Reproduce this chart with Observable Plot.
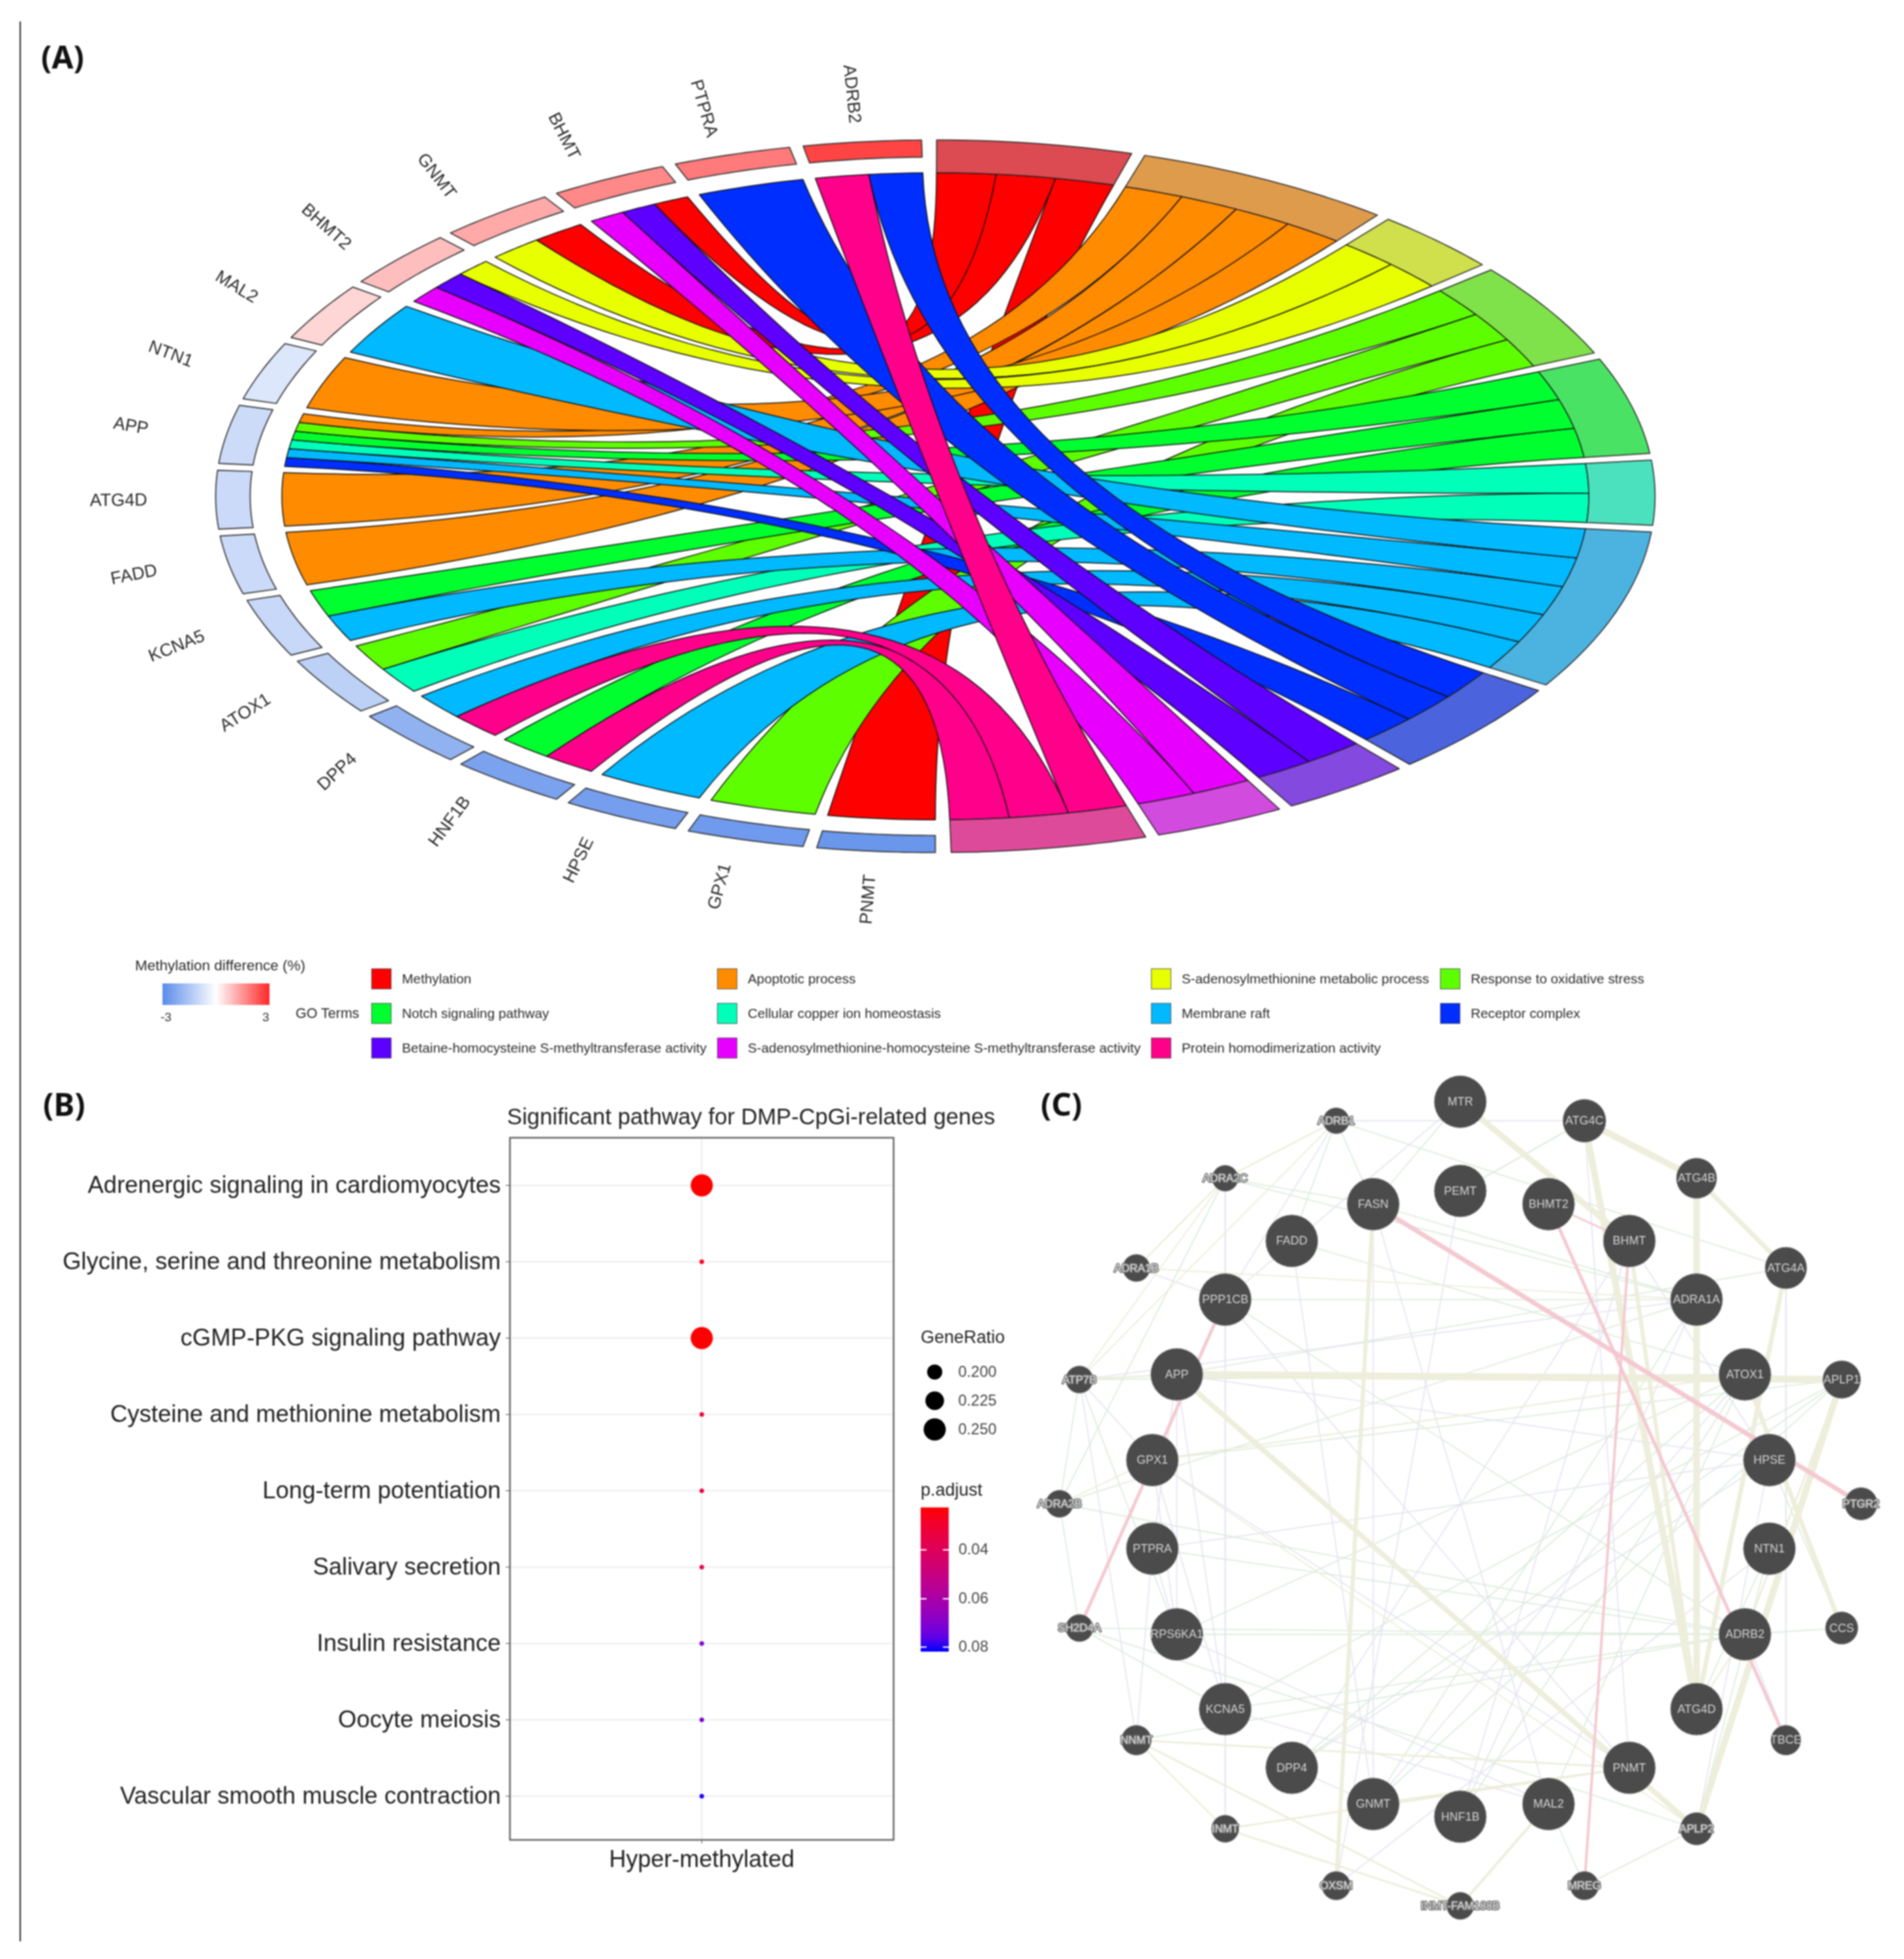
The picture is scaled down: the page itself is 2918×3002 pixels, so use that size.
<!DOCTYPE html>
<html><head><meta charset="utf-8">
<script src="https://cdn.jsdelivr.net/npm/d3@7"></script>
<script src="https://cdn.jsdelivr.net/npm/@observablehq/plot@0.6"></script>
<style>
html,body{margin:0;background:#fff}
#root{position:relative;width:2918px;height:3002px;overflow:hidden;background:#fff;font-family:"Liberation Sans",Arial,sans-serif;filter:blur(0.9px)}
#root svg{position:absolute;background:transparent;overflow:visible}
.t{position:absolute;white-space:nowrap;line-height:1;transform:translateY(-50%);color:#222}
.sw{position:absolute;box-sizing:border-box;border:1.5px solid #555}
</style></head><body><div id="root"></div>
<script>
// ---------- Panel A data ----------
const genes=["PNMT","GPX1","HPSE","HNF1B","DPP4","ATOX1","KCNA5","FADD","ATG4D","APP","NTN1","MAL2","BHMT2","GNMT","BHMT","PTPRA","ADRB2"];
const geneDiff=[-2.7,-2.6,-2.5,-2.4,-2.0,-1.2,-1.0,-0.95,-0.95,-0.93,-0.62,0.57,0.9,1.2,1.65,1.85,2.6];
const terms=["Methylation","Apoptotic process","S-adenosylmethionine metabolic process","Response to oxidative stress","Notch signaling pathway","Cellular copper ion homeostasis","Membrane raft","Receptor complex","Betaine-homocysteine S-methyltransferase activity","S-adenosylmethionine-homocysteine S-methyltransferase activity","Protein homodimerization activity"];
const termColor=["#FF0000","#FF8B00","#E8FF00","#5DFF00","#00FF2E","#00FFB9","#00B9FF","#002EFF","#5D00FF","#E800FF","#FF008B"];
const termRing=["#DC4B52","#DE9B4C","#CFE04C","#80E24B","#4AE265","#4CE1BE","#4CB3E0","#4C63DE","#8449DE","#D24BDF","#DE4A9A"];
const termGenes=[
 ["BHMT","GNMT","PNMT"],
 ["APP","ATG4D","FADD","NTN1"],
 ["GNMT","BHMT2"],
 ["APP","ATOX1","GPX1"],
 ["APP","KCNA5","HNF1B"],
 ["APP","ATOX1"],
 ["MAL2","APP","KCNA5","DPP4","HPSE"],
 ["ADRB2","PTPRA","APP"],
 ["BHMT","BHMT2"],
 ["BHMT","BHMT2"],
 ["ADRB2","DPP4","HNF1B"]
];
// ---------- Panel B data ----------
const pathways=["Adrenergic signaling in cardiomyocytes","Glycine, serine and threonine metabolism","cGMP-PKG signaling pathway","Cysteine and methionine metabolism","Long-term potentiation","Salivary secretion","Insulin resistance","Oocyte meiosis","Vascular smooth muscle contraction"];
const geneRatio=[0.25,0.125,0.25,0.125,0.125,0.125,0.125,0.125,0.125];
const pAdjust=[0.023,0.027,0.023,0.031,0.033,0.037,0.07,0.072,0.082];
const ratioLegend=[0.2,0.225,0.25];
const pTicks=[0.04,0.06,0.08];
// ---------- Panel C data ----------
const bigNodes=[["MTR",788,77],["FASN",635,255],["PEMT",788,232],["BHMT2",943,255],["FADD",492,319],["BHMT",1085,319],["PPP1CB",375,421],["ADRA1A",1203,421],["APP",290,551],["ATOX1",1288,551],["GPX1",247,700],["HPSE",1331,700],["PTPRA",247,854],["NTN1",1331,854],["RPS6KA1",290,1003],["ADRB2",1288,1003],["KCNA5",375,1133],["ATG4D",1203,1133],["DPP4",492,1235],["PNMT",1085,1235],["GNMT",635,1298],["MAL2",943,1298],["HNF1B",788,1320]];
const midNodes=[["ATG4C",1006,110,33],["ATG4B",1203,210,31],["ATG4A",1360,366,32],["APLP1",1458,560,29],["CCS",1458,992,25],["TBCE",1360,1187,23]];
const smallNodes=[["PTGR2",1492,776,25],["APLP2",1203,1341,25],["MREG",1006,1440,22],["INMT-FAM188B",788,1475,21],["OXSM",570,1440,22],["INMT",375,1341,21],["NNMT",219,1187,23],["SH2D4A",119,992,21],["ADRA2B",84,776,21],["ATP7B",119,560,21],["ADRA1B",219,366,21],["ADRA2C",375,210,20],["ADRB1",570,110,20]];
const coexpEdges=[["APP","APLP1",11],["MTR","BHMT",9],["ATG4C","ATG4B",10],["ATG4C","ATG4D",10],["ATG4B","ATG4D",10],["ATG4B","ATG4A",7],["ATG4A","ATG4D",7],["APLP1","APLP2",10],["APP","APLP2",8],["ATOX1","CCS",7],["FASN","OXSM",6],["BHMT","ATG4D",6],["APP","ATP7B",3],["NNMT","PNMT",3],["INMT","PNMT",3],["NNMT","INMT-FAM188B",3],["MAL2","INMT-FAM188B",4],["INMT","INMT-FAM188B",3],["PNMT","APLP2",4],["GNMT","PNMT",3],["ADRB1","ADRA2C",2.5],["ADRA2C","ADRA1B",2.5],["ADRA1B","ADRA1A",2],["ADRB1","ATP7B",2],["GPX1","ATOX1",2.5],["APLP1","ADRB2",3],["NNMT","INMT",2.5],["ADRA2C","ATP7B",2],["ADRB2","ATG4D",2.5],["GPX1","APLP2",2],["ADRA2B","GPX1",2]];
const pinkEdges=[["FASN","PTGR2",7],["BHMT2","TBCE",5],["BHMT","MREG",4],["PPP1CB","SH2D4A",5],["BHMT2","BHMT",3]];
const greenEdges=[["ADRB1","FADD"],["ADRB1","FASN"],["ADRA2C","ADRA1A"],["ADRA2C","FASN"],["ADRA2C","ADRA2B"],["ATP7B","ATOX1"],["ATP7B","ADRA2B"],["ATP7B","RPS6KA1"],["ADRA2B","ADRB2"],["ADRA2B","ADRA1A"],["SH2D4A","ADRB2"],["SH2D4A","APLP2"],["RPS6KA1","ADRB2"],["KCNA5","APLP1"],["KCNA5","ADRB2"],["DPP4","ATOX1"],["GNMT","ADRA1A"],["HNF1B","ATOX1"],["PEMT","ATG4C"],["FADD","ATOX1"],["PPP1CB","ADRA1A"],["PPP1CB","ADRB2"],["APP","ATG4A"],["GPX1","APLP1"],["PTPRA","ADRB2"],["NTN1","ATG4D"],["NTN1","APLP2"],["HPSE","CCS"],["CCS","ADRB2"],["TBCE","ATG4A"],["MREG","APLP2"],["SH2D4A","ADRA2B"],["KCNA5","SH2D4A"],["DPP4","APLP1"],["MTR","FASN"],["FASN","ADRA1A"],["ADRB1","ATG4A"],["ATG4C","PEMT"],["MAL2","ATOX1"],["NNMT","ADRB2"],["GNMT","APLP1"],["RPS6KA1","ATOX1"],["MAL2","MREG"]];
const lavEdges=[["ADRA1B","PPP1CB"],["ATP7B","GPX1"],["APP","RPS6KA1"],["APP","PTPRA"],["GPX1","RPS6KA1"],["PTPRA","RPS6KA1"],["PTPRA","NNMT"],["GPX1","KCNA5"],["APP","KCNA5"],["BHMT","HNF1B"],["MTR","PPP1CB"],["ADRA2C","PPP1CB"],["FADD","GNMT"],["FASN","GNMT"],["ADRB1","PPP1CB"],["ADRA2C","INMT"],["INMT","PPP1CB"],["ADRA1A","HNF1B"],["ATOX1","GNMT"],["HPSE","DPP4"],["HPSE","BHMT"],["NTN1","OXSM"],["ADRB2","TBCE"],["ATG4A","TBCE"],["PEMT","OXSM"],["ATG4C","PNMT"],["FASN","MAL2"],["ADRA1A","ATP7B"],["ATP7B","NNMT"],["BHMT","DPP4"],["PPP1CB","PNMT"],["GPX1","PNMT"],["RPS6KA1","MAL2"],["APP","HPSE"],["PTPRA","HPSE"],["APLP2","HPSE"],["DPP4","GNMT"],["KCNA5","MAL2"],["ADRB1","ATG4C"]];
const edgeColor={coexp:"#EDEDDA",pink:"#F3C6CF",green:"#DAEBDA",lav:"#E4E1F0"};

// ---------- Helpers ----------
const root=document.getElementById("root");
const font='"Liberation Sans",Arial,sans-serif';
const headFont='"Noto Sans",sans-serif';
function place(svg,x,y){svg.style.left=x+"px";svg.style.top=y+"px";root.appendChild(svg);return svg;}
function label(txt,x,y,size,extra){const e=document.createElement("div");e.className="t";e.textContent=txt;e.style.left=x+"px";e.style.top=y+"px";e.style.fontSize=size+"px";if(extra)Object.assign(e.style,extra);root.appendChild(e);return e;}
function box(x,y,w,h,bg,cls){const e=document.createElement("div");if(cls)e.className=cls;Object.assign(e.style,{position:"absolute",left:x+"px",top:y+"px",width:w+"px",height:h+"px",background:bg});root.appendChild(e);return e;}
const rad=a=>a*Math.PI/180;
const pt=(a,r)=>[r*Math.sin(rad(a)),r*Math.cos(rad(a))];
const arc=(a,b,r,n=10)=>d3.range(n+1).map(i=>pt(a+(b-a)*i/n,r));
const bez=(p,q,n=40)=>d3.range(1,n).map(i=>{const t=i/n,w=(1-t)*(1-t),v=t*t;return [w*p[0]+v*q[0],w*p[1]+v*q[1]];});

// ---------- Panel A ----------
const termStep=5.245,gap=1.08,rIn=0.908,rTerm=0.908,rGeneIn=0.952;
const geneW=(178.9-16*1.1)/17;
const geneColor=d3.scaleLinear().domain([-3,0,3]).range(["#5A8BEA","#ffffff","#FF2727"]);
let a0=0.1;
const termSpan=terms.map((t,i)=>{const s=a0,e=s+termGenes[i].length*termStep;a0=e+gap;return {s,e};});
const geneSpan=genes.map((g,i)=>({s:180+i*(geneW+1.1),e:180+i*(geneW+1.1)+geneW}));
const linksPerGene=genes.map(g=>termGenes.map((l,t)=>l.includes(g)?t:-1).filter(t=>t>=0).sort((a,b)=>b-a));
const ribbons=[];
genes.forEach((g,gi)=>{
 linksPerGene[gi].forEach((t,k)=>{
  const n=linksPerGene[gi].length,w=geneW/n,g1=geneSpan[gi].s+k*w,g2=g1+w;
  const j=termGenes[t].indexOf(g),a1=termSpan[t].s+j*termStep,a2=a1+termStep;
  const poly=[...arc(a1,a2,rIn),...bez(pt(a2,rIn),pt(g1,rIn)),...arc(g1,g2,rIn),...bez(pt(g2,rIn),pt(a1,rIn))];
  poly.push(poly[0]);
  ribbons.push({id:g+"-"+t,fill:termColor[t],poly});
 });
});
const toRows=list=>list.flatMap(o=>o.poly.map(p=>({id:o.id,fill:o.fill,x:p[0],y:p[1]})));
const ringPoly=(s,e,r1,r2)=>{const p=[...arc(s,e,r2,16),...arc(e,s,r1,16)];p.push(p[0]);return p;};
const termRings=terms.map((t,i)=>({id:"T"+i,fill:termRing[i],poly:ringPoly(termSpan[i].s,termSpan[i].e,rTerm,1)}));
const geneRings=genes.map((g,i)=>({id:"G"+i,fill:geneColor(geneDiff[i]),poly:ringPoly(geneSpan[i].s,geneSpan[i].e,rGeneIn,1)}));
const geneLabels=genes.map((g,i)=>{const m=(geneSpan[i].s+geneSpan[i].e)/2,p=pt(m,1.135);return {g,x:p[0],y:p[1],rot:m-270};});
const cx=1433,cy=760,rx=1103,ry=546;
place(Plot.plot({width:2918,height:1420,margin:0,style:{fontFamily:font,background:"transparent"},
 x:{domain:[-1,1],range:[cx-rx,cx+rx],axis:null},y:{domain:[-1,1],range:[cy+ry,cy-ry],axis:null},color:{type:"identity"},
 marks:[
  Plot.line(toRows(ribbons),{x:"x",y:"y",z:"id",fill:"fill",stroke:"#111",strokeWidth:1.5,curve:"linear"}),
  Plot.line(toRows(termRings),{x:"x",y:"y",z:"id",fill:"fill",stroke:"#222",strokeWidth:1.5,curve:"linear"}),
  Plot.line(toRows(geneRings),{x:"x",y:"y",z:"id",fill:"fill",stroke:"#333",strokeWidth:1.7,curve:"linear"}),
  Plot.text(geneLabels,{x:"x",y:"y",text:"g",rotate:"rot",fontSize:27,fill:"#2a2a2a",textAnchor:"middle"})
 ]}),0,0);

// legend A
const headStyle={fontFamily:headFont,fontWeight:700,color:"#111"};
label("(A)",63,87,48,headStyle);
label("Methylation difference (%)",207,1480,22.5,{color:"#2a2a2a"});
box(249,1507,164,33,"linear-gradient(to right,#5A8BEA,#ffffff 50%,#FF2727)");
label("-3",246,1558,19,{color:"#333"});label("3",402,1558,19,{color:"#333"});
label("GO Terms",453,1554,21.5,{color:"#2a2a2a"});
const legendCols=[569,1099,1764,2207],legendRows=[1500,1553,1606];
const legendLayout=[[0,0,0],[1,0,1],[2,0,2],[3,0,3],[0,1,4],[1,1,5],[2,1,6],[3,1,7],[0,2,8],[1,2,9],[2,2,10]];
legendLayout.forEach(([c,r,t])=>{
 const x=legendCols[c],y=legendRows[r];
 box(x,y-16,31,32,termColor[t],"sw");
 label(terms[t],x+47,y,20.8,{color:"#2a2a2a"});
});

// ---------- Panel B ----------
const bRows=pathways.map((p,i)=>({p,ratio:geneRatio[i],padj:pAdjust[i],x:"Hyper-methylated"}));
const rScale={type:"linear",domain:[0.125,0.25],range:[3.5,17]};
const pColor={type:"linear",domain:[0.0825,0.023],range:["#0000ff","#ff0000"],interpolate:"lab"};
const bLeft=781,bRight=31,bTop=103,bBottom=71;
place(Plot.plot({width:1400,height:1250,marginLeft:bLeft,marginRight:bRight,marginTop:bTop,marginBottom:bBottom,style:{fontFamily:font,background:"transparent"},
 x:{type:"point",domain:["Hyper-methylated"],label:null,axis:null},
 y:{type:"point",domain:pathways,range:[174,1114],padding:0,label:null,axis:null},
 r:rScale,color:pColor,
 marks:[
  Plot.gridY(pathways,{stroke:"#e6e6e6",strokeOpacity:1,strokeWidth:1.6}),
  Plot.gridX(["Hyper-methylated"],{stroke:"#e6e6e6",strokeOpacity:1,strokeWidth:1.6}),
  Plot.axisY({anchor:"left",tickSize:6,tickPadding:8,fontSize:36.5,fill:"#222",stroke:"#444",label:null}),
  Plot.axisX({anchor:"bottom",tickSize:6,tickPadding:10,fontSize:36,fill:"#222",stroke:"#444",label:null}),
  Plot.dot(bRows,{x:"x",y:"p",r:"ratio",fill:"padj",stroke:"none"}),
  Plot.frame({stroke:"#666",strokeWidth:2.5})
 ]}),0,1640);
label("(B)",66,1692,48,headStyle);
label("Significant pathway for DMP-CpGi-related genes",777,1711,34.7,{});
label("GeneRatio",1411,2049,27,{});
place(Plot.plot({width:160,height:150,margin:0,style:{fontFamily:font,background:"transparent"},
 x:{domain:[0,160],range:[0,160],axis:null},y:{type:"point",domain:ratioLegend,range:[24,112],padding:0,axis:null},r:rScale,
 marks:[
  Plot.dot(ratioLegend,{x:()=>22,y:d=>d,r:d=>d,fill:"#000",stroke:"none"}),
  Plot.text(ratioLegend,{x:()=>58,y:d=>d,text:d=>d3.format(".3f")(d),textAnchor:"start",fontSize:23.5,fill:"#444"})
 ]}),1410,2068+10);
label("p.adjust",1411,2283,27,{});
const lab=d3.interpolateLab("#ff0000","#0000ff");
box(1411,2310,43,221,"linear-gradient(to bottom,"+d3.range(0,1.01,0.1).map(t=>lab(t)).join(",")+")");
const pY=d3.scaleLinear().domain([0.04,0.08]).range([2375,2524]);
pTicks.forEach(v=>{const y=pY(v);box(1411,y-1,9,2,"#fff");box(1445,y-1,9,2,"#fff");label(v.toFixed(2),1469,y,23.5,{color:"#444"});});

// ---------- Panel C ----------
const pos=new Map([...bigNodes,...midNodes,...smallNodes].map(n=>[n[0],n]));
const allEdges=[...greenEdges.map(e=>({a:e[0],b:e[1],w:1.8,k:"green"})),...lavEdges.map(e=>({a:e[0],b:e[1],w:1.7,k:"lav"})),...coexpEdges.map(e=>({a:e[0],b:e[1],w:e[2],k:"coexp"})),...pinkEdges.map(e=>({a:e[0],b:e[1],w:e[2],k:"pink"}))];
const big=bigNodes.map(n=>({n:n[0],x:n[1],y:n[2],r:40}));
const mid=midNodes.map(n=>({n:n[0],x:n[1],y:n[2],r:n[3]}));
const small=smallNodes.map(n=>({n:n[0],x:n[1],y:n[2],r:n[3]}));
place(Plot.plot({width:1368,height:1382,margin:0,style:{fontFamily:font,background:"transparent"},
 x:{domain:[0,1568],range:[0,1368],axis:null},y:{domain:[0,1568],range:[0,1382],axis:null},r:{type:"identity"},
 marks:[
  Plot.link(allEdges,{x1:d=>pos.get(d.a)[1],y1:d=>pos.get(d.a)[2],x2:d=>pos.get(d.b)[1],y2:d=>pos.get(d.b)[2],stroke:d=>edgeColor[d.k],strokeWidth:"w",strokeOpacity:0.95}),
  Plot.dot([...big,...mid,...small],{x:"x",y:"y",r:"r",fill:"#4b4b4b",stroke:"#a8a8a8",strokeWidth:1}),
  Plot.text([...big,...mid],{x:"x",y:"y",text:"n",fontSize:18,fill:"#d2d2d2"}),
  Plot.text(small,{x:"x",y:"y",text:"n",fontSize:17,fill:"#e4e4e4",stroke:"#6e6e6e",strokeWidth:3})
 ]}),1550,1620);
label("(C)",1595,1692,48,headStyle);

// left rule
box(30,33,2,2942,"#222");
</script></body></html>
